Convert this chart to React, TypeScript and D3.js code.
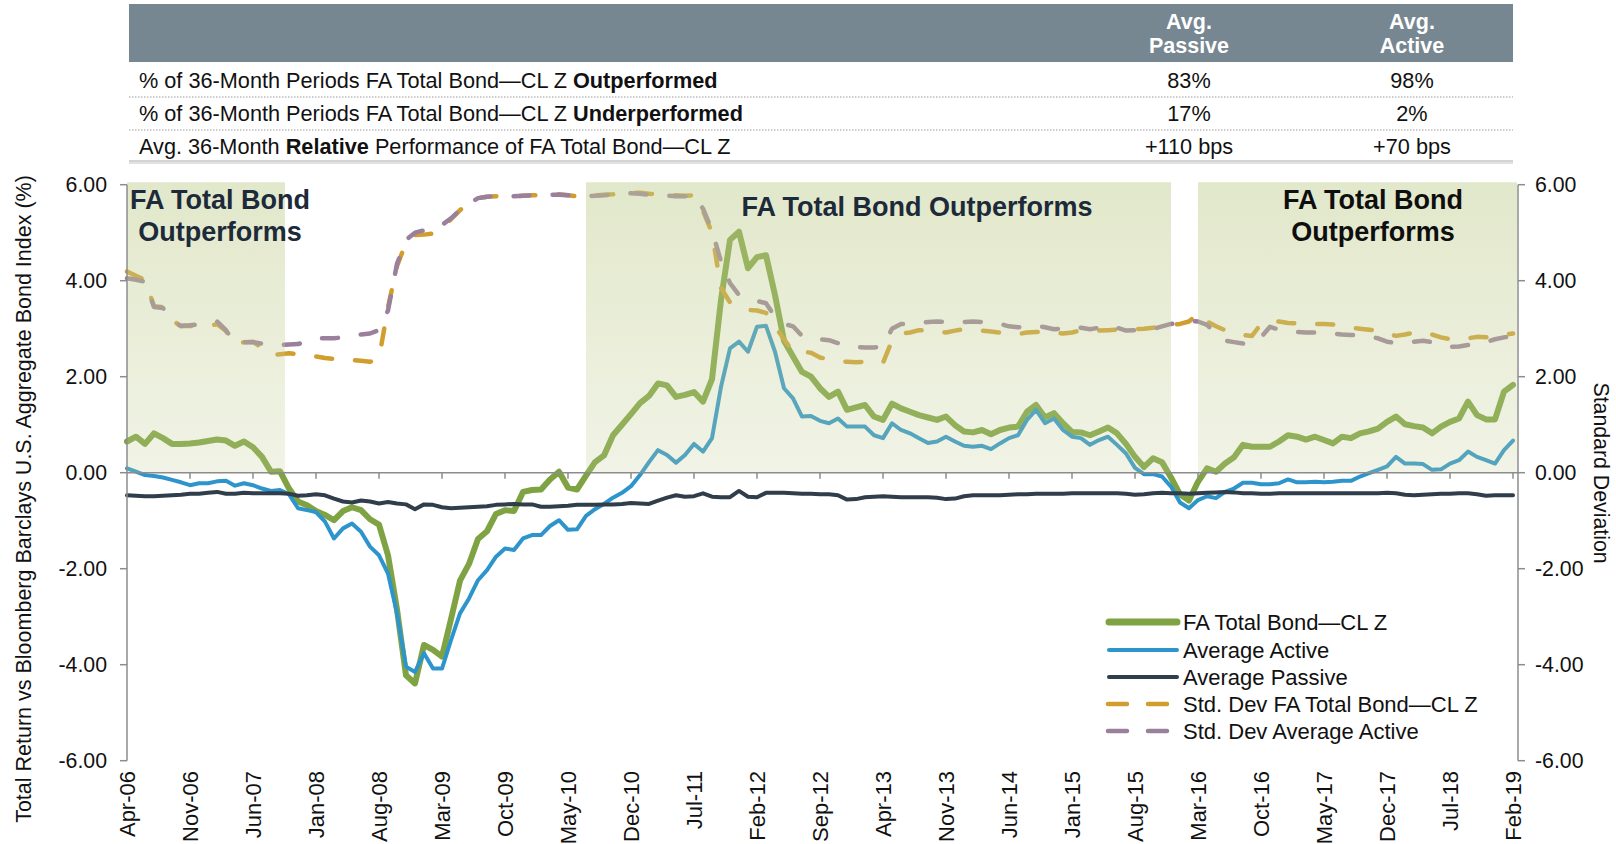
import React from 'react';
import * as d3 from 'd3';

const W = 1616;
const H = 844;

// ---------- data ----------
const tickLabels = [
  'Apr-06', 'Nov-06', 'Jun-07', 'Jan-08', 'Aug-08', 'Mar-09', 'Oct-09', 'May-10',
  'Dec-10', 'Jul-11', 'Feb-12', 'Sep-12', 'Apr-13', 'Nov-13', 'Jun-14', 'Jan-15',
  'Aug-15', 'Mar-16', 'Oct-16', 'May-17', 'Dec-17', 'Jul-18', 'Feb-19',
];
const monthsBetweenTicks = 7;

const faTotalBond = [
  0.65, 0.75, 0.60, 0.82, 0.72, 0.60, 0.60, 0.61, 0.63, 0.66,
  0.69, 0.67, 0.56, 0.65, 0.53, 0.33, 0.02, 0.03, -0.33, -0.60,
  -0.68, -0.80, -0.88, -0.99, -0.80, -0.72, -0.78, -0.97, -1.08, -1.72,
  -2.85, -4.22, -4.39, -3.59, -3.69, -3.83, -3.05, -2.25, -1.90, -1.38,
  -1.22, -0.86, -0.78, -0.80, -0.40, -0.36, -0.35, -0.14, 0.02, -0.31,
  -0.35, -0.06, 0.22, 0.36, 0.78, 1.00, 1.22, 1.45, 1.60, 1.86,
  1.82, 1.58, 1.62, 1.68, 1.48, 1.95, 3.60, 4.85, 5.02, 4.26,
  4.49, 4.53, 3.70, 2.75, 2.42, 2.10, 2.00, 1.76, 1.58, 1.69,
  1.31, 1.36, 1.41, 1.17, 1.10, 1.44, 1.34, 1.27, 1.20, 1.15,
  1.10, 1.17, 0.99, 0.86, 0.84, 0.89, 0.80, 0.89, 0.94, 0.96,
  1.27, 1.41, 1.15, 1.24, 1.03, 0.85, 0.84, 0.78, 0.86, 0.94,
  0.82, 0.60, 0.33, 0.12, 0.30, 0.22, -0.10, -0.45, -0.58, -0.19,
  0.09, 0.02, 0.19, 0.32, 0.58, 0.54, 0.54, 0.54, 0.65, 0.78,
  0.75, 0.69, 0.75, 0.68, 0.61, 0.75, 0.72, 0.82, 0.86, 0.92,
  1.06, 1.17, 1.01, 0.97, 0.94, 0.82, 0.96, 1.06, 1.13, 1.48,
  1.20, 1.11, 1.11, 1.69, 1.83,
];

const avgActive = [
  0.09, 0.02, -0.05, -0.07, -0.10, -0.15, -0.20, -0.26, -0.22, -0.22,
  -0.18, -0.17, -0.27, -0.22, -0.26, -0.33, -0.38, -0.36, -0.45, -0.74,
  -0.78, -0.82, -1.02, -1.37, -1.16, -1.06, -1.23, -1.54, -1.72, -2.10,
  -2.93, -4.04, -4.15, -3.76, -4.08, -4.08, -3.49, -2.93, -2.62, -2.24,
  -2.03, -1.75, -1.58, -1.61, -1.37, -1.30, -1.30, -1.11, -0.99, -1.19,
  -1.18, -0.90, -0.76, -0.65, -0.52, -0.42, -0.28, -0.05, 0.22, 0.47,
  0.37, 0.21, 0.37, 0.60, 0.44, 0.72, 1.79, 2.59, 2.73, 2.52,
  3.04, 3.06, 2.52, 1.76, 1.55, 1.17, 1.18, 1.08, 1.03, 1.13,
  0.96, 0.96, 0.96, 0.78, 0.72, 1.03, 0.89, 0.82, 0.72, 0.62,
  0.65, 0.75, 0.65, 0.56, 0.54, 0.56, 0.49, 0.61, 0.72, 0.78,
  1.10, 1.31, 1.03, 1.13, 0.89, 0.75, 0.72, 0.58, 0.68, 0.75,
  0.58, 0.40, 0.10, -0.03, -0.03, -0.08, -0.29, -0.62, -0.74, -0.57,
  -0.49, -0.53, -0.40, -0.33, -0.21, -0.21, -0.24, -0.24, -0.22, -0.14,
  -0.20, -0.20, -0.19, -0.20, -0.19, -0.17, -0.17, -0.08, -0.01, 0.06,
  0.13, 0.33, 0.19, 0.19, 0.18, 0.06, 0.07, 0.19, 0.26, 0.44,
  0.33, 0.26, 0.19, 0.47, 0.67,
];

const avgPassive = [
  -0.47, -0.48, -0.49, -0.49, -0.48, -0.47, -0.46, -0.44, -0.44, -0.42,
  -0.40, -0.44, -0.44, -0.42, -0.43, -0.43, -0.43, -0.43, -0.44, -0.48,
  -0.47, -0.45, -0.47, -0.54, -0.60, -0.62, -0.58, -0.60, -0.64, -0.61,
  -0.64, -0.66, -0.76, -0.66, -0.67, -0.72, -0.74, -0.73, -0.72, -0.71,
  -0.70, -0.67, -0.66, -0.65, -0.66, -0.66, -0.71, -0.71, -0.70, -0.69,
  -0.67, -0.67, -0.67, -0.66, -0.66, -0.65, -0.63, -0.64, -0.65, -0.58,
  -0.52, -0.47, -0.50, -0.49, -0.43, -0.50, -0.51, -0.51, -0.38, -0.50,
  -0.51, -0.42, -0.42, -0.42, -0.43, -0.44, -0.44, -0.45, -0.45, -0.47,
  -0.56, -0.55, -0.51, -0.50, -0.49, -0.50, -0.51, -0.51, -0.51, -0.51,
  -0.52, -0.55, -0.54, -0.49, -0.47, -0.47, -0.47, -0.47, -0.46, -0.45,
  -0.45, -0.44, -0.44, -0.44, -0.44, -0.43, -0.43, -0.43, -0.43, -0.43,
  -0.43, -0.44, -0.46, -0.45, -0.43, -0.42, -0.43, -0.43, -0.44, -0.43,
  -0.42, -0.41, -0.40, -0.41, -0.43, -0.43, -0.44, -0.44, -0.43, -0.43,
  -0.43, -0.43, -0.43, -0.43, -0.43, -0.43, -0.43, -0.43, -0.43, -0.43,
  -0.42, -0.43, -0.46, -0.47, -0.46, -0.45, -0.44, -0.44, -0.43, -0.43,
  -0.45, -0.48, -0.47, -0.47, -0.47,
];

const sdFaTotalBond = [
  4.19, 4.10, 4.02, 3.47, 3.45, 3.18, 3.05, 3.06, 3.05, 3.04,
  3.10, 2.95, 2.67, 2.72, 2.73, 2.60, 2.45, 2.47, 2.49, 2.47,
  2.45, 2.42, 2.39, 2.37, 2.36, 2.35, 2.33, 2.31, 2.38, 3.45,
  4.30, 4.80, 4.95, 4.96, 4.98, 5.10, 5.28, 5.47, 5.62, 5.72,
  5.75, 5.76, 5.76, 5.76, 5.77, 5.78, 5.78, 5.79, 5.80, 5.78,
  5.76, 5.76, 5.78, 5.79, 5.80, 5.82, 5.84, 5.83, 5.81, 5.80,
  5.79, 5.78, 5.77, 5.78, 5.45, 5.00, 3.85, 3.55, 3.45, 3.39,
  3.38, 3.33, 3.05, 2.78, 2.52, 2.52, 2.50, 2.40, 2.36, 2.32,
  2.31, 2.30, 2.31, 2.30, 2.29, 2.75, 2.90, 2.92, 2.97, 2.97,
  2.94, 2.92, 2.96, 2.99, 2.98, 2.96, 2.94, 2.92, 2.89, 2.89,
  2.92, 2.93, 2.94, 2.92, 2.90, 2.92, 2.97, 2.97, 2.96, 2.97,
  2.98, 2.99, 2.99, 3.00, 3.02, 3.05, 3.08, 3.10, 3.15, 3.32,
  3.15, 3.05, 2.97, 2.92, 2.87, 2.85, 3.10, 3.14, 3.15, 3.12,
  3.11, 3.11, 3.10, 3.10, 3.09, 3.06, 3.02, 3.00, 2.98, 2.96,
  2.90, 2.85, 2.88, 2.92, 2.93, 2.88, 2.82, 2.78, 2.77, 2.80,
  2.83, 2.82, 2.83, 2.88, 2.90,
];

const sdAvgActive = [
  4.05, 4.02, 3.98, 3.45, 3.43, 3.16, 3.06, 3.07, 3.09, 3.11,
  3.15, 2.97, 2.68, 2.72, 2.72, 2.69, 2.67, 2.66, 2.67, 2.68,
  2.74, 2.80, 2.80, 2.80, 2.82, 2.85, 2.88, 2.90, 2.97, 3.38,
  4.35, 4.85, 5.00, 5.05, 5.10, 5.16, 5.30, 5.47, 5.60, 5.72,
  5.75, 5.76, 5.76, 5.76, 5.77, 5.78, 5.78, 5.79, 5.79, 5.78,
  5.76, 5.76, 5.77, 5.78, 5.80, 5.81, 5.82, 5.81, 5.79, 5.78,
  5.77, 5.76, 5.76, 5.77, 5.50, 5.05, 4.40, 3.95, 3.70, 3.64,
  3.58, 3.53, 3.25, 3.10, 3.05, 2.85, 2.78, 2.78, 2.76, 2.70,
  2.63, 2.62, 2.61, 2.61, 2.63, 3.00, 3.10, 3.10, 3.12, 3.14,
  3.15, 3.14, 3.13, 3.14, 3.15, 3.14, 3.13, 3.10, 3.05, 3.03,
  3.04, 3.06, 3.03, 2.99, 3.00, 3.04, 3.02, 2.99, 3.02, 3.08,
  3.02, 2.96, 2.97, 2.98, 2.99, 3.05, 3.10, 3.12, 3.17, 3.15,
  3.08, 2.90, 2.75, 2.72, 2.69, 2.72, 2.82, 3.04, 2.98, 2.94,
  2.93, 2.92, 2.92, 2.91, 2.90, 2.88, 2.87, 2.86, 2.84, 2.80,
  2.73, 2.70, 2.72, 2.73, 2.75, 2.72, 2.66, 2.62, 2.63, 2.66,
  2.68, 2.72, 2.78, 2.82, 2.84,
];

// periods (month index, start/end) when FA Total Bond outperforms
const outperformStart = [0, 51, 119];
const outperformEnd = [17.55, 116, 154.45];

const yTicks = [-6, -4, -2, 0, 2, 4, 6];

const tableColumns = ['Avg.\nPassive', 'Avg.\nActive'];
const tableRowLabels = [
  [{ t: '% of 36-Month Periods FA Total Bond\u2014CL Z ' }, { t: 'Outperformed', b: true }],
  [{ t: '% of 36-Month Periods FA Total Bond\u2014CL Z ' }, { t: 'Underperformed', b: true }],
  [{ t: 'Avg. 36-Month ' }, { t: 'Relative', b: true }, { t: ' Performance of FA Total Bond\u2014CL Z' }],
];
const passiveValues = ['83%', '17%', '+110 bps'];
const activeValues = ['98%', '2%', '+70 bps'];

const seriesNames = [
  'FA Total Bond\u2014CL Z',
  'Average Active',
  'Average Passive',
  'Std. Dev FA Total Bond\u2014CL Z',
  'Std. Dev Average Active',
];

// ---------- styles ----------
const FONT = '"Liberation Sans", Arial, Helvetica, sans-serif';
const seriesStyle = [
  { color: '#7fa343', width: 6, dash: null, legendWidth: 7 },
  { color: '#2e95cc', width: 4, dash: null, legendWidth: 4 },
  { color: '#303d4a', width: 4, dash: null, legendWidth: 4 },
  { color: '#d19e2e', width: 4.5, dash: '16,23', legendWidth: 4.5 },
  { color: '#9a809c', width: 4.5, dash: '16,23', legendWidth: 4.5 },
];
const AXIS = '#8c8c8c';

export default function App() {
  const n = faTotalBond.length;
  const x = d3.scaleLinear().domain([0, n - 1]).range([127, 1513]);
  const y = d3.scaleLinear().domain([-6, 6]).range([760.7, 184.7]);
  const rightAxisX = 1518;

  const lineGen = d3
    .line<number>()
    .x((_, i) => x(i))
    .y((v) => y(v))
    .curve(d3.curveLinear);

  const allSeries = [faTotalBond, avgActive, avgPassive, sdFaTotalBond, sdAvgActive];

  const tickIdx = tickLabels.map((_, k) => k * monthsBetweenTicks);

  const legendY = [622, 650, 677, 704, 731];

  return (
    <svg
      width={W}
      height={H}
      viewBox={`0 0 ${W} ${H}`}
      style={{ position: 'absolute', left: 0, top: 0, display: 'block', background: '#fff' }}
      fontFamily={FONT}
    >
      <defs>
        <linearGradient id="shade" x1="0" y1="0" x2="0" y2="1">
          <stop offset="0" stopColor="#bfcc8c" stopOpacity={0.46} />
          <stop offset="1" stopColor="#c3cf95" stopOpacity={0.24} />
        </linearGradient>
      </defs>

      {/* ---------- table ---------- */}
      <rect x={129} y={4} width={1384} height={58} fill="#778792" />
      {tableColumns.map((c, k) => {
        const cx = k === 0 ? 1189 : 1412;
        const parts = c.split('\n');
        return (
          <text key={c} x={cx} textAnchor="middle" fill="#fff" fontWeight="bold" fontSize={21.5}>
            <tspan x={cx} y={29}>{parts[0]}</tspan>
            <tspan x={cx} y={53}>{parts[1]}</tspan>
          </text>
        );
      })}
      {tableRowLabels.map((segs, r) => {
        const yy = 88 + r * 33;
        return (
          <g key={r}>
            <text x={139} y={yy} fontSize={21.7} fill="#111" style={{ whiteSpace: 'pre' }}>
              {segs.map((s, k) => (
                <tspan key={k} fontWeight={s.b ? 'bold' : 'normal'}>{s.t}</tspan>
              ))}
            </text>
            <text x={1189} y={yy} fontSize={21.7} fill="#111" textAnchor="middle">{passiveValues[r]}</text>
            <text x={1412} y={yy} fontSize={21.7} fill="#111" textAnchor="middle">{activeValues[r]}</text>
          </g>
        );
      })}
      {[97, 130].map((yy) => (
        <line key={yy} x1={129} x2={1513} y1={yy} y2={yy} stroke="#9a9a9a" strokeWidth={1} strokeDasharray="1.5,1.5" />
      ))}
      <line x1={129} x2={1513} y1={161} y2={161} stroke="#a8a8a8" strokeWidth={1.2} />
      <line x1={129} x2={1513} y1={163} y2={163} stroke="#c4c4c4" strokeWidth={1.2} />

      {/* ---------- series ---------- */}
      {allSeries.map((vals, s) => (
        <path
          key={s}
          d={lineGen(vals) || ''}
          fill="none"
          stroke={seriesStyle[s].color}
          strokeWidth={seriesStyle[s].width}
          strokeLinejoin="round"
          strokeLinecap="round"
          strokeDasharray={seriesStyle[s].dash || undefined}
        />
      ))}

      {/* ---------- outperform shading (overlay) ---------- */}
      {outperformStart.map((s, k) => {
        const x0 = x(s);
        const x1 = Math.min(x(outperformEnd[k]), rightAxisX);
        return (
          <rect key={k} x={x0} y={y(6.05)} width={x1 - x0} height={y(0) - y(6.05)} fill="url(#shade)" />
        );
      })}

      {/* ---------- axes ---------- */}
      <line x1={x(0)} x2={rightAxisX} y1={y(0)} y2={y(0)} stroke={AXIS} strokeWidth={1.5} />
      {tickIdx.slice(1).map((i) => (
        <line key={i} x1={x(i)} x2={x(i)} y1={y(0)} y2={y(0) + 6} stroke={AXIS} strokeWidth={1.5} />
      ))}
      <line x1={x(0)} x2={x(0)} y1={y(6)} y2={y(-6)} stroke={AXIS} strokeWidth={1.5} />
      <line x1={rightAxisX} x2={rightAxisX} y1={y(6)} y2={y(-6)} stroke={AXIS} strokeWidth={1.5} />
      {yTicks.map((v) => (
        <g key={v}>
          <line x1={x(0) - 7} x2={x(0)} y1={y(v)} y2={y(v)} stroke={AXIS} strokeWidth={1.5} />
          <line x1={rightAxisX} x2={rightAxisX + 7} y1={y(v)} y2={y(v)} stroke={AXIS} strokeWidth={1.5} />
          <text x={107} y={y(v)} dy="0.36em" textAnchor="end" fontSize={21.3} fill="#111">{v.toFixed(2)}</text>
          <text x={1535} y={y(v)} dy="0.36em" textAnchor="start" fontSize={21.3} fill="#111">{v.toFixed(2)}</text>
        </g>
      ))}
      {tickLabels.map((lab, k) => (
        <text
          key={lab}
          transform={`translate(${x(tickIdx[k])},771) rotate(-90)`}
          dy="0.36em"
          textAnchor="end"
          fontSize={22}
          fill="#111"
        >
          {lab}
        </text>
      ))}
      <text
        transform="translate(23,499) rotate(-90)"
        dy="0.36em"
        textAnchor="middle"
        fontSize={21.5}
        fill="#111"
      >
        Total Return vs Bloomberg Barclays U.S. Aggregate Bond Index (%)
      </text>
      <text
        transform="translate(1602,473) rotate(90)"
        dy="0.36em"
        textAnchor="middle"
        fontSize={21.3}
        fill="#111"
      >
        Standard Deviation
      </text>

      {/* ---------- annotations ---------- */}
      <g fontWeight="bold" fontSize={27} textAnchor="middle">
        <text x={220} y={209} fill="#1c2a39">FA Total Bond</text>
        <text x={220} y={241} fill="#1c2a39">Outperforms</text>
        <text x={917} y={215.5} fill="#1c2a39">FA Total Bond Outperforms</text>
        <text x={1373} y={209} fill="#0e0e0e">FA Total Bond</text>
        <text x={1373} y={241} fill="#0e0e0e">Outperforms</text>
      </g>

      {/* ---------- legend ---------- */}
      {seriesNames.map((name, s) => {
        const st = seriesStyle[s];
        const yy = legendY[s];
        return (
          <g key={name}>
            {st.dash ? (
              <>
                <line x1={1108} x2={1127} y1={yy} y2={yy} stroke={st.color} strokeWidth={st.legendWidth} strokeLinecap="round" />
                <line x1={1148} x2={1167} y1={yy} y2={yy} stroke={st.color} strokeWidth={st.legendWidth} strokeLinecap="round" />
              </>
            ) : (
              <line x1={1109} x2={1177} y1={yy} y2={yy} stroke={st.color} strokeWidth={st.legendWidth} strokeLinecap="round" />
            )}
            <text x={1183} y={yy} dy="0.36em" fontSize={22} fill="#111">{name}</text>
          </g>
        );
      })}
    </svg>
  );
}
